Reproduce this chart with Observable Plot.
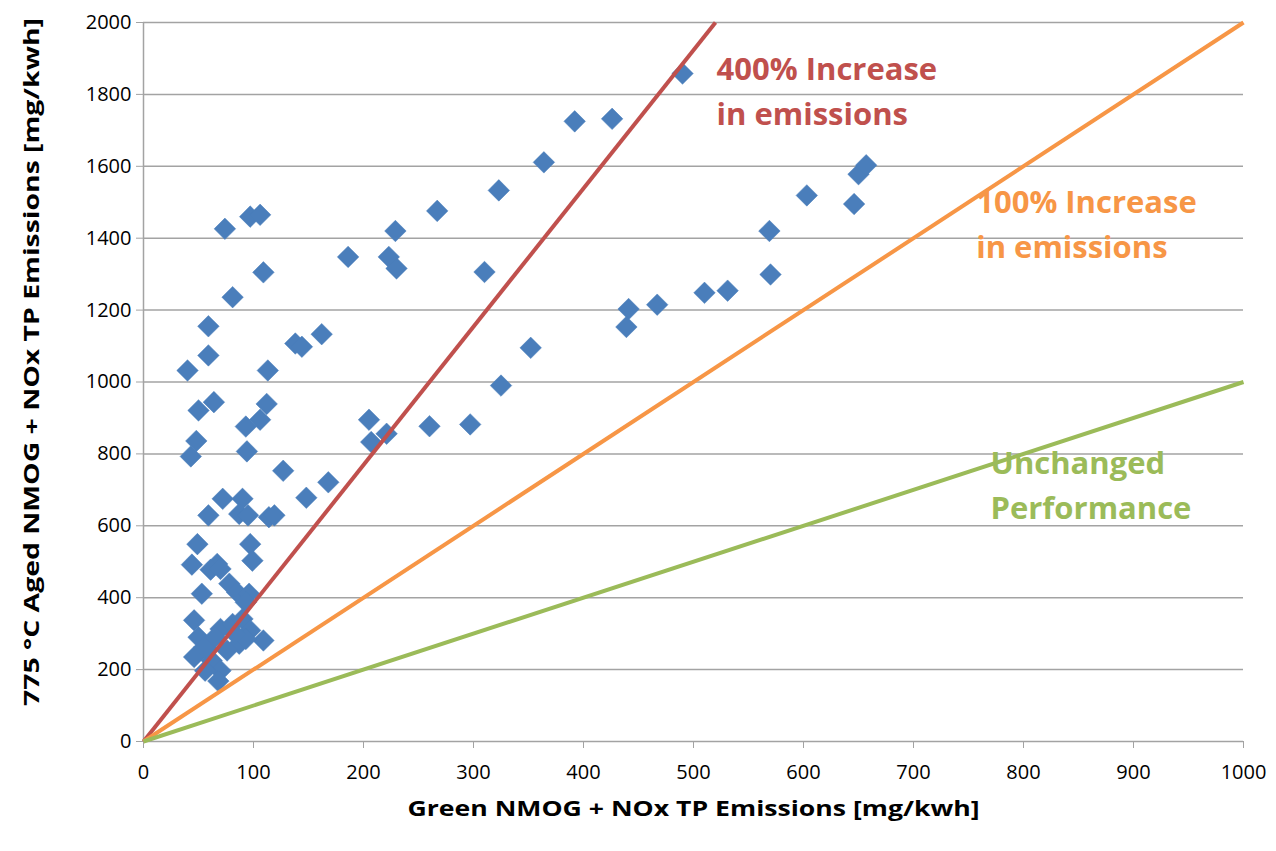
<!DOCTYPE html>
<html><head><meta charset="utf-8">
<script src="https://cdn.jsdelivr.net/npm/d3@7"></script>
<script src="https://cdn.jsdelivr.net/npm/@observablehq/plot@0.6"></script>
<style>body{margin:0;background:#fff;} #chart{width:1276px;height:851px;}</style>
</head><body><div id="chart"></div>
<script>
// Green (x) vs 775 °C aged (y) NMOG + NOx TP emissions, mg/kWh
const greenX = [490,392,426,364,323,267,229,186,223,230,310,162,138,144,352,325,205,221,207,260,297,168,148,127,
  441,439,467,510,531,570,569,603,646,650,657,
  74,97,106,109,81,59,59,40,113,64,50,112,106,93,48,43,94,72,90,59,87,95,114,119,49,97,44,67,99,61,70,53,78,85,96,93,46,50,70,81,90,97,87,109,46,62,70,68,56,58,76,93,65,55,83];
const agedY = [1858,1725,1732,1611,1533,1476,1420,1348,1348,1316,1306,1133,1107,1098,1095,990,895,856,833,877,882,721,678,753,
  1203,1153,1215,1248,1254,1299,1420,1519,1495,1578,1603,
  1426,1460,1465,1305,1236,1155,1074,1032,1032,944,921,939,895,876,836,793,807,675,675,629,633,629,624,629,549,549,492,494,503,478,480,411,439,415,411,387,337,290,313,327,341,309,272,281,235,225,197,168,197,258,253,285,290,262,300];
const xTicks = [0,100,200,300,400,500,600,700,800,900,1000];
const yTicks = [0,200,400,600,800,1000,1200,1400,1600,1800,2000];
// reference lines (start/end in data units)
const refNames = ["400% Increase in emissions","100% Increase in emissions","Unchanged Performance"];
const refX2 = [520,1000,1000];
const refY2 = [2000,2000,1000];
const refColors = ["#c0504d","#f79646","#9bbb59"];
// annotation lines
const labelText = ["400% Increase","in emissions","100% Increase","in emissions","Unchanged","Performance"];
const labelX = [521,521,757,757,770,770];
const labelY = [1839,1716,1469,1346,743,620];
const labelColor = ["#c0504d","#c0504d","#f79646","#f79646","#9bbb59","#9bbb59"];

const pts = greenX.map((x,i)=>({x, y: agedY[i]}));
const refs = refNames.map((n,i)=>({name:n, x1:0, y1:0, x2:refX2[i], y2:refY2[i], color:refColors[i]}));
const labels = labelText.map((t,i)=>({t, x:labelX[i], y:labelY[i], c:labelColor[i]}));
const xTitle = "Green NMOG + NOx TP Emissions [mg/kwh]";
const yTitle = "775 °C Aged NMOG + NOx TP Emissions [mg/kwh]";

const chart = Plot.plot({
  width: 1276, height: 851,
  marginLeft: 143, marginRight: 33, marginTop: 22, marginBottom: 110,
  style: {fontFamily: "Open Sans, sans-serif", background: "#fff"},
  x: {domain: [0,1000]},
  y: {domain: [0,2000]},
  marks: [
    Plot.ruleY(yTicks, {stroke: "#a3a3a3", strokeWidth: 1.5}),
    Plot.ruleX([0], {stroke: "#a3a3a3", strokeWidth: 1.5}),
    Plot.axisY(yTicks, {tickSize: 7, tickPadding: 5, fontSize: 20, stroke: "#a3a3a3", color: "#000", label: null, tickFormat: d => String(d)}),
    Plot.axisX(xTicks, {tickSize: 7, tickPadding: 16, fontSize: 20, stroke: "#a3a3a3", label: null, tickFormat: d => String(d)}),
    Plot.dot(pts, {x: "x", y: "y", symbol: "diamond2", r: 9.7, fill: "#4a7ebb", stroke: "#4a7ebb", strokeWidth: 0.5}),
    Plot.link(refs, {x1: "x1", y1: "y1", x2: "x2", y2: "y2", stroke: "color", strokeWidth: 4}),
    Plot.text(labels, {x: "x", y: "y", text: "t", fill: "c", textAnchor: "start", lineAnchor: "bottom", fontSize: 31, fontWeight: "bold"}),
    Plot.text([xTitle], {frameAnchor: "bottom", dy: 74, fontSize: 22, fontWeight: "bold", fill: "#000", lineAnchor: "bottom"}),
    Plot.text([yTitle], {frameAnchor: "left", dx: -112, dy: 324, rotate: -90, textAnchor: "start", fontSize: 22, fontWeight: "bold", fill: "#000"})
  ]
});
document.getElementById("chart").appendChild(chart);
d3.select(chart).selectAll("text").each(function(){
  const s = d3.select(this);
  const t = s.text();
  if (t === xTitle) s.attr("textLength", 572).attr("lengthAdjust", "spacingAndGlyphs");
  if (t === yTitle) s.attr("textLength", 688).attr("lengthAdjust", "spacingAndGlyphs");
});
</script></body></html>
